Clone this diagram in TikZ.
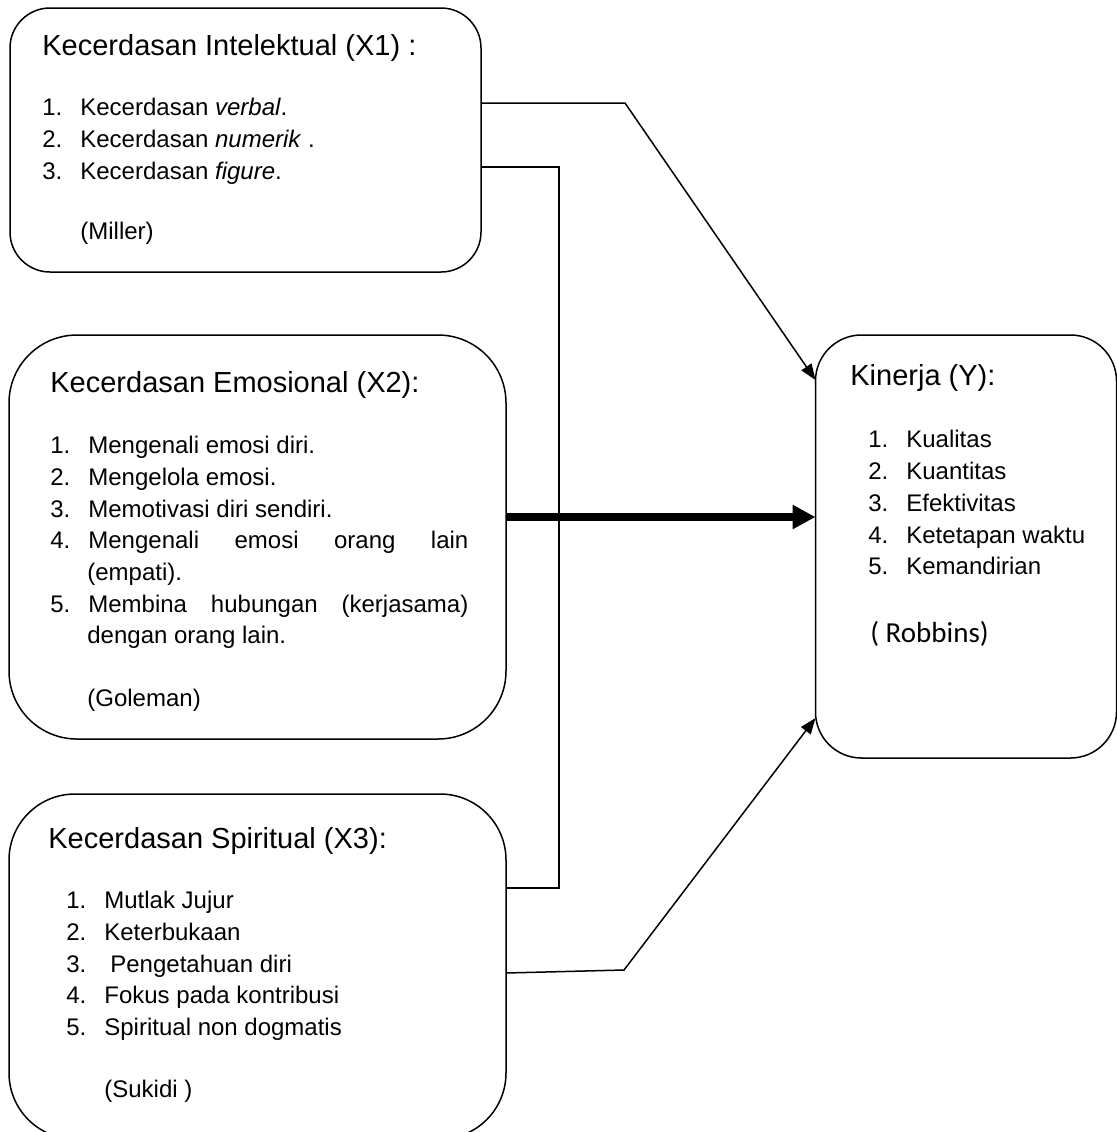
\documentclass[tikz,border=0pt]{standalone}
\usepackage{fontspec}
\setmainfont{Liberation Sans}
\newfontfamily\calibri{Carlito}
\usetikzlibrary{calc,arrows.meta}

\newcommand{\butir}[2]{\makebox[19pt][l]{#1}#2}

\tikzset{
    kotak/.style={draw, line width=0.75pt, inner sep=0pt, outer sep=0pt},
    judul/.style={anchor=base west, inner sep=0pt, font=\fontsize{14.5}{17}\selectfont},
    isi/.style={anchor=base west, inner sep=0pt, font=\fontsize{12}{14}\selectfont},
    garis/.style={line width=0.75pt},
    panah/.style={line width=0.75pt, -{Triangle[length=8pt,width=6pt]}},
    panahtebal/.style={line width=4pt, -{Triangle[length=11.5pt,width=11.5pt]}},
}

\begin{document}
\begin{tikzpicture}[x=0.5pt, y=-0.5pt]
        \useasboundingbox (0,0) rectangle (1117,1132);
        \clip (0,0) rectangle (1117,1132);

        % kotak-kotak variabel
        \node (iq) [kotak, rounded corners=20pt, minimum width=235.5pt, minimum height=132pt] at (245.5,140) {};
        \node (eq) [kotak, rounded corners=34pt, minimum width=248.5pt, minimum height=202pt] at (257.5,537) {};
        \node (sq) [kotak, rounded corners=33pt, minimum width=248.5pt, minimum height=172.5pt] at (257.5,966.5) {};
        \node (kinerja) [kotak, rounded corners=23pt, minimum width=150.5pt, minimum height=211.5pt] at (966,546.5) {};

        % X1
        \node (iqjudul) [judul] at (42,55) {Kecerdasan Intelektual (X1) :};
        \node (iq1) [isi] at (42,115) {\butir{1.}{Kecerdasan \textit{verbal}.}};
        \node (iq2) [isi] at (42,147) {\butir{2.}{Kecerdasan \textit{numerik} .}};
        \node (iq3) [isi] at (42,179) {\butir{3.}{Kecerdasan \textit{figure}.}};
        \node (iqsumber) [isi] at (80,239) {(Miller)};

        % X2
        \node (eqjudul) [judul] at (50,392) {Kecerdasan Emosional (X2):};
        \node (eq1) [isi] at (50,453) {\butir{1.}{Mengenali emosi diri.}};
        \node (eq2) [isi] at (50,485) {\butir{2.}{Mengelola emosi.}};
        \node (eq3) [isi] at (50,517) {\butir{3.}{Memotivasi diri sendiri.}};
        \node (eq4) [isi] at (50,548) {\butir{4.}{\makebox[190pt][s]{Mengenali emosi orang lain}}};
        \node (eq4b) [isi] at (87,580) {(empati).};
        \node (eq5) [isi] at (50,612) {\butir{5.}{\makebox[190pt][s]{Membina hubungan (kerjasama)}}};
        \node (eq5b) [isi] at (87,643) {dengan orang lain.};
        \node (eqsumber) [isi] at (87,706) {(Goleman)};

        % X3
        \node (sqjudul) [judul] at (48,848) {Kecerdasan Spiritual (X3):};
        \node (sq1) [isi] at (66,908) {\butir{1.}{Mutlak Jujur}};
        \node (sq2) [isi] at (66,940) {\butir{2.}{Keterbukaan}};
        \node (sq3) [isi] at (66,972) {\butir{3.}{\hspace{3pt}Pengetahuan diri}};
        \node (sq4) [isi] at (66,1003) {\butir{4.}{Fokus pada kontribusi}};
        \node (sq5) [isi] at (66,1035) {\butir{5.}{Spiritual non dogmatis}};
        \node (sqsumber) [isi] at (104,1097) {(Sukidi )};

        % Y
        \node (kinerjajudul) [judul] at (850,385) {Kinerja (Y):};
        \node (kinerja1) [isi] at (868,447) {\butir{1.}{Kualitas}};
        \node (kinerja2) [isi] at (868,479) {\butir{2.}{Kuantitas}};
        \node (kinerja3) [isi] at (868,511) {\butir{3.}{Efektivitas}};
        \node (kinerja4) [isi] at (868,543) {\butir{4.}{Ketetapan waktu}};
        \node (kinerja5) [isi] at (868,574) {\butir{5.}{Kemandirian}};
        \node (kinerjasumber) [isi, font=\calibri\fontsize{14.5}{17}\selectfont] at (870,642) {( Robbins)};

        % garis dan panah
        \coordinate (belok1) at (625,103);
        \coordinate (belok2) at (624,970);
        \coordinate (belok3) at (559,888);

        \draw [panah] ($(iq.north east) + (0,95)$) -- (belok1) -- ($(kinerja.north west) + (0,45)$);
        \draw [garis] ($(iq.north east) + (0,159)$) -| (belok3) -- ($(sq.north east) + (0,94)$);
        \draw [panahtebal] ($(eq.north east) + (0,182)$) -- ($(kinerja.north west) + (0,182)$);
        \draw [panah] ($(sq.north east) + (0,179)$) -- (belok2) -- ($(kinerja.south west) + (0,-40)$);
    \end{tikzpicture}
\end{document}
